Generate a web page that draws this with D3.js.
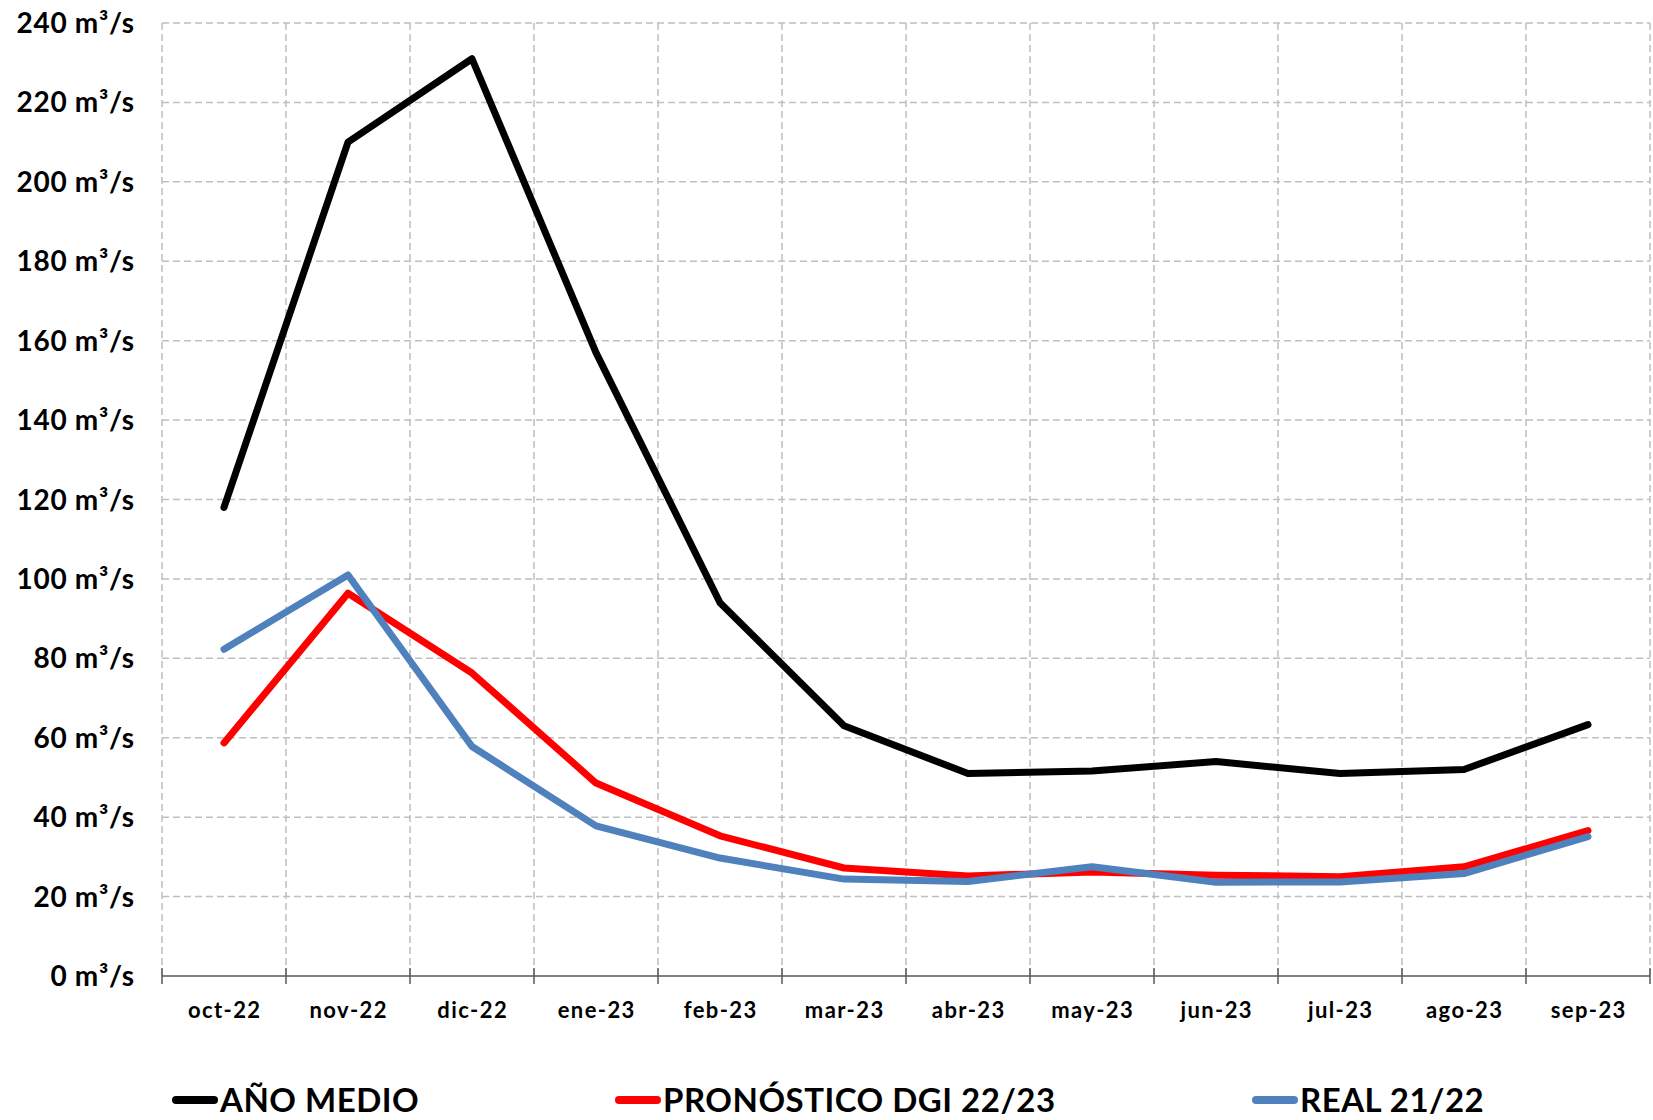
<!DOCTYPE html>
<html>
<head>
<meta charset="utf-8">
<script src="https://cdn.jsdelivr.net/npm/d3@7"></script>
<style>
  body { margin: 0; background: #fff; }
  svg { display: block; font-family: Lato, "Noto Sans", sans-serif; }
</style>
</head>
<body>
<svg id="chart"></svg>
<script>
// Data
const months = ['oct-22', 'nov-22', 'dic-22', 'ene-23', 'feb-23', 'mar-23',
                'abr-23', 'may-23', 'jun-23', 'jul-23', 'ago-23', 'sep-23'];
const anoMedio = [118, 210, 231, 157, 94, 63, 51, 51.6, 54, 51, 52, 63.3];
const pronostico = [58.7, 96.4, 76.3, 48.6, 35.3, 27.2, 25.2, 26.2, 25.4, 25, 27.5, 36.6];
const real = [82.3, 101, 57.8, 37.8, 29.7, 24.4, 23.8, 27.5, 23.6, 23.7, 25.8, 35.1];
const yTicks = [0, 20, 40, 60, 80, 100, 120, 140, 160, 180, 200, 220, 240];

const series = [
    { name: 'AÑO MEDIO', values: anoMedio, color: '#000000' },
    { name: 'PRONÓSTICO DGI 22/23', values: pronostico, color: '#ff0000' },
    { name: 'REAL 21/22', values: real, color: '#4f81bd' }
];

const width = 1653, height = 1120;
const margin = { left: 162, right: 3, top: 23, bottom: 144 };

const svg = d3.select('#chart')
    .attr('width', width)
    .attr('height', height);

const x = d3.scaleBand()
    .domain(months)
    .range([margin.left, width - margin.right])
    .padding(0);

const y = d3.scaleLinear()
    .domain([0, 240])
    .range([height - margin.bottom, margin.top]);

// Grid
const grid = svg.append('g').attr('class', 'grid');
yTicks.forEach(t => {
    if (t === 0) return;
    grid.append('line')
        .attr('x1', x.range()[0]).attr('x2', x.range()[1])
        .attr('y1', y(t)).attr('y2', y(t))
        .attr('stroke', '#bfbfbf')
        .attr('stroke-width', 1.5)
        .attr('stroke-dasharray', '7,4');
});
const bounds = months.map(m => x(m)).concat([x.range()[1]]);
bounds.forEach(bx => {
    grid.append('line')
        .attr('x1', bx).attr('x2', bx)
        .attr('y1', y(240)).attr('y2', y(0))
        .attr('stroke', '#bfbfbf')
        .attr('stroke-width', 1.5)
        .attr('stroke-dasharray', '7,4');
});

// X axis line and ticks
const axis = svg.append('g').attr('class', 'x-axis');
axis.append('line')
    .attr('x1', x.range()[0]).attr('x2', x.range()[1])
    .attr('y1', y(0)).attr('y2', y(0))
    .attr('stroke', '#595959')
    .attr('stroke-width', 1.5);
bounds.forEach(bx => {
    axis.append('line')
        .attr('x1', bx).attr('x2', bx)
        .attr('y1', y(0) - 8).attr('y2', y(0) + 8)
        .attr('stroke', '#595959')
        .attr('stroke-width', 1.5);
});
months.forEach(m => {
    axis.append('text')
        .attr('x', x(m) + x.bandwidth() / 2 + 0.7)
        .attr('y', y(0) + 42)
        .attr('text-anchor', 'middle')
        .attr('font-size', '22px')
        .attr('font-weight', 'bold')
        .attr('letter-spacing', '1.4px')
        .attr('fill', '#000')
        .text(m);
});

// Y labels
const yAxis = svg.append('g').attr('class', 'y-axis');
yTicks.forEach(t => {
    yAxis.append('text')
        .attr('x', 134.7)
        .attr('y', y(t))
        .attr('dy', '0.36em')
        .attr('text-anchor', 'end')
        .attr('font-size', '28px')
        .attr('font-weight', 'bold')
        .attr('letter-spacing', '0.7px')
        .attr('fill', '#000')
        .text(t + ' m³/s');
});

// Lines
const line = d3.line()
    .x((d, i) => x(months[i]) + x.bandwidth() / 2)
    .y(d => y(d));

const lines = svg.append('g').attr('class', 'lines');
series.forEach(s => {
    lines.append('path')
        .datum(s.values)
        .attr('d', line)
        .attr('fill', 'none')
        .attr('stroke', s.color)
        .attr('stroke-width', 7)
        .attr('stroke-linejoin', 'round')
        .attr('stroke-linecap', 'round');
});

// Legend
const legendX = [172, 615, 1252];
const legend = svg.append('g').attr('class', 'legend');
series.forEach((s, i) => {
    const lx = legendX[i];
    legend.append('line')
        .attr('x1', lx + 4).attr('x2', lx + 42)
        .attr('y1', 1100).attr('y2', 1100)
        .attr('stroke', s.color)
        .attr('stroke-width', 8)
        .attr('stroke-linecap', 'round');
    legend.append('text')
        .attr('x', lx + 48)
        .attr('y', 1112)
        .attr('font-size', '33px')
        .attr('font-weight', 'bold')
        .attr('letter-spacing', '0.5px')
        .attr('fill', '#000')
        .text(s.name);
});
</script>
</body>
</html>
